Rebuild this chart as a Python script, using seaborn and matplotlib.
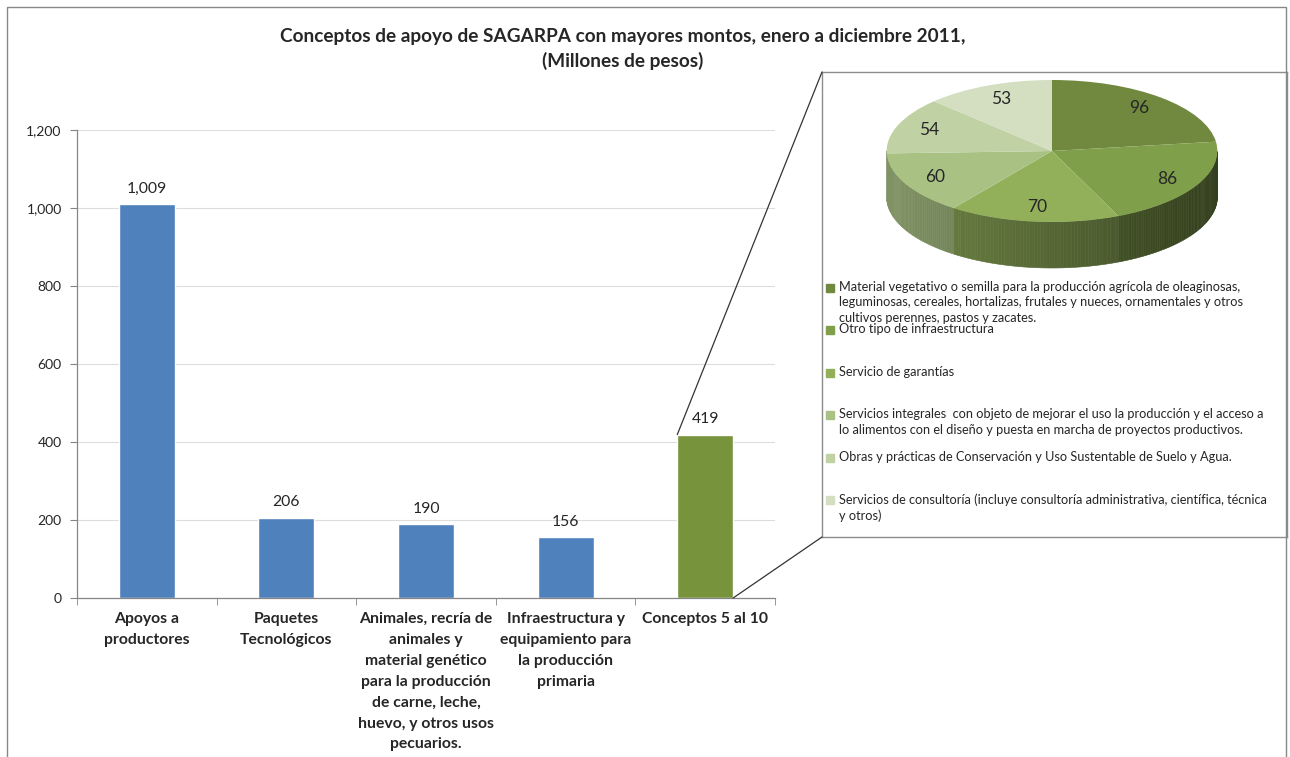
import numpy as np
import pandas as pd
import matplotlib
matplotlib.use("Agg")
import matplotlib.pyplot as plt
import matplotlib.colors as mcolors
import seaborn as sns
from matplotlib.patches import Rectangle, ConnectionPatch
from matplotlib.collections import PolyCollection
from matplotlib.ticker import FuncFormatter

# datos de la grafica de barras
conceptos = [
    "Apoyos a\nproductores",
    "Paquetes\nTecnológicos",
    "Animales, recría de\nanimales y\nmaterial genético\npara la producción\nde carne, leche,\nhuevo, y otros usos\npecuarios.",
    "Infraestructura y\nequipamiento para\nla producción\nprimaria",
    "Conceptos 5 al 10",
]
montos = [1009, 206, 190, 156, 419]
colores_barras = ["#4F81BD", "#4F81BD", "#4F81BD", "#4F81BD", "#77933C"]

# desglose de conceptos 5 al 10
detalle_etiquetas = [
    "Material vegetativo o semilla para la producción agrícola de oleaginosas,\nleguminosas, cereales, hortalizas, frutales y nueces, ornamentales y otros\ncultivos perennes, pastos y zacates.",
    "Otro tipo de infraestructura",
    "Servicio de garantías",
    "Servicios integrales  con objeto de mejorar el uso la producción y el acceso a\nlo alimentos con el diseño y puesta en marcha de proyectos productivos.",
    "Obras y prácticas de Conservación y Uso Sustentable de Suelo y Agua.",
    "Servicios de consultoría (incluye consultoría administrativa, científica, técnica\ny otros)",
]
detalle_montos = [96, 86, 70, 60, 54, 53]
detalle_colores = ["#71893F", "#809F4A", "#92B05A", "#A9C283", "#C0D1A3", "#D4DEC1"]

titulo = "Conceptos de apoyo de SAGARPA con mayores montos, enero a diciembre 2011,\n(Millones de pesos)"

sns.set_style("white")
plt.rcParams["font.family"] = ["Lato", "DejaVu Sans"]

W, H = 1290, 757
fig = plt.figure(figsize=(W / 100, H / 100), dpi=100)


def fbox(x0, y0, x1, y1):
    # caja en pixeles (origen arriba a la izquierda) -> fraccion de figura
    return [x0 / W, 1 - y1 / H, (x1 - x0) / W, (y1 - y0) / H]


# --- barras ---
ax = fig.add_axes(fbox(77, 130, 775, 598))
df = pd.DataFrame({"concepto": conceptos, "monto": montos})
sns.barplot(data=df, x="concepto", y="monto", hue="concepto", palette=colores_barras,
            legend=False, width=0.4, saturation=1, ax=ax)
ax.set_ylim(0, 1200)
ax.set_xlim(-0.5, 4.5)
ax.set_yticks(range(0, 1201, 200))
ax.yaxis.set_major_formatter(FuncFormatter(lambda v, p: f"{v:,.0f}"))
ax.yaxis.grid(True, color="#DDDDDD", lw=0.8)
ax.set_axisbelow(True)
for s in ["top", "right"]:
    ax.spines[s].set_visible(False)
for s in ["left", "bottom"]:
    ax.spines[s].set_color("#868686")
    ax.spines[s].set_linewidth(0.9)
ax.set_xlabel("")
ax.set_ylabel("")
ax.tick_params(axis="y", left=True, length=5, color="#868686", labelsize=10, pad=6)
ax.set_xticks(range(len(conceptos)))
ax.set_xticklabels(conceptos, fontweight="bold", fontsize=11.3, linespacing=1.63, va="top")
ax.set_xticks(np.arange(-0.5, len(conceptos)), minor=True)
ax.tick_params(axis="x", which="major", length=0, pad=10)
ax.tick_params(axis="x", which="minor", bottom=True, length=5, color="#868686")
for cont in ax.containers:
    ax.bar_label(cont, fmt="{:,.0f}", padding=6, fontsize=11.3)

fig.text(623 / W, 1 - 28 / H, titulo, ha="center", va="top", fontsize=13.7,
         fontweight="bold", linespacing=1.45)

# --- recuadro del desglose ---
axbox = fig.add_axes(fbox(822, 72, 1287, 537))
axbox.set_xlim(822, 1287)
axbox.set_ylim(537, 72)
axbox.set_xticks([])
axbox.set_yticks([])
for s in axbox.spines.values():
    s.set_color("#8C8C8C")
    s.set_linewidth(1)

for i, (lab, col) in enumerate(zip(detalle_etiquetas, detalle_colores)):
    y0 = 281 + i * 42.4
    axbox.add_patch(Rectangle((826, y0 + 3), 8, 8, color=col))
    axbox.text(839, y0, lab, ha="left", va="top", fontsize=9.2, linespacing=1.33)

# --- pastel 3D ---
axpie = fig.add_axes(fbox(885, 78, 1219, 270))
wedges, textos = axpie.pie(detalle_montos, colors=detalle_colores, startangle=90,
                           counterclock=False, labels=[str(v) for v in detalle_montos],
                           labeldistance=0.8,
                           textprops=dict(fontsize=12.5, ha="center", va="center"),
                           wedgeprops=dict(linewidth=0))
depth = 46 / 71
axpie.set_aspect("auto")
axpie.set_xlim(-1.01, 1.01)
axpie.set_ylim(-1 - depth - 2 / 71, 1 + 2 / 71)
axpie.axis("off")

polys, cols = [], []
for w, col in zip(wedges, detalle_colores):
    base = np.array(mcolors.to_rgb(col))
    angs = np.linspace(w.theta1, w.theta2, int(abs(w.theta2 - w.theta1)) + 2)
    for a, b in zip(angs[:-1], angs[1:]):
        m = np.deg2rad((a + b) / 2)
        if np.sin(m) > 0:
            continue
        ra, rb = np.deg2rad(a), np.deg2rad(b)
        polys.append([(np.cos(ra), np.sin(ra)), (np.cos(rb), np.sin(rb)),
                      (np.cos(rb), np.sin(rb) - depth), (np.cos(ra), np.sin(ra) - depth)])
        shade = 0.58 - 0.18 * np.cos(m)
        cols.append(tuple(np.clip(base * shade, 0, 1)))
axpie.add_collection(PolyCollection(polys, facecolors=cols, edgecolors=cols,
                                    linewidths=0.4, zorder=0.5))

# --- lineas de conexion ---
barra = ax.containers[-1][0]
con1 = ConnectionPatch(xyA=(barra.get_x(), barra.get_height()), coordsA=ax.transData,
                       xyB=(0, 1), coordsB=axbox.transAxes,
                       color="#333333", lw=0.9)
con2 = ConnectionPatch(xyA=(barra.get_x() + barra.get_width(), 0), coordsA=ax.transData,
                       xyB=(0, 0), coordsB=axbox.transAxes,
                       color="#333333", lw=0.9)
fig.add_artist(con1)
fig.add_artist(con2)

# marco exterior
fig.add_artist(Rectangle((7 / W, -0.01), (1286 - 7) / W, 1 - 7 / H + 0.01,
                         transform=fig.transFigure, fill=False,
                         edgecolor="#878787", lw=1))

fig.savefig("out.png", dpi=100)
